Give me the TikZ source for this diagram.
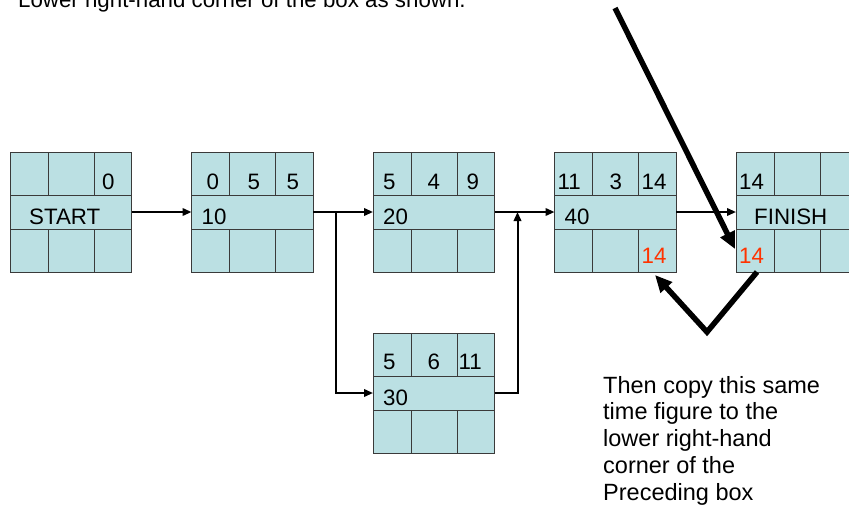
\documentclass[tikz,border=0pt]{standalone}
\usepackage{fontspec}
\setmainfont{Liberation Sans}
\usetikzlibrary{positioning}
\usetikzlibrary{arrows.meta}
\definecolor{boxfill}{HTML}{BBE0E3}
\definecolor{boxline}{HTML}{3A3A3A}
\definecolor{latered}{HTML}{FF3300}
\tikzset{
  task/.style={draw=boxline,fill=boxfill,line width=0.9pt,
    minimum width=121.5pt,minimum height=120pt,inner sep=0pt,outer sep=0pt},
  cell/.style={draw=boxline,line width=0.9pt},
  flow/.style={line width=2pt,-{Triangle[length=9pt,width=7.5pt]}},
  pointer/.style={line width=5.5pt,-{Triangle[length=17pt,width=15pt]}},
  num/.style={anchor=base west,inner sep=0pt,font=\fontsize{22.3}{26}\selectfont},
  late/.style={num,text=latered},
  note/.style={anchor=north west,inner sep=0pt,align=left,
    font=\fontsize{23.5}{26.7}\selectfont}
}

\begin{document}
\begin{tikzpicture}[x=1pt,y=-1pt,node distance=60pt and 60pt]
    \path[use as bounding box,clip] (0,0) rectangle (849,514);
    \node[task,anchor=north west] (start) at (10,152) {};
    \node[task,right=of start] (n10) {};
    \node[task,right=of n10] (n20) {};
    \node[task,below=61pt of n20] (n30) {};
    \node[task,right=of n20] (n40) {};
    \node[task,right=of n40] (finish) {};
    % rows and columns of each box
    \foreach \b in {start,n10,n20,n30,n40,finish} {
      \draw[cell] ([yshift=-43pt]\b.north west) -- ([yshift=-43pt]\b.north east)
        ([yshift=43pt]\b.south west) -- ([yshift=43pt]\b.south east);
      \foreach \dx in {38,84}
        \draw[cell] ([xshift=\dx pt]\b.north west) -- ++(0,43)
          ([xshift=\dx pt]\b.south west) -- ++(0,-43);
    }
    % times
    \node[num] at ([shift={(92,37)}]start.north west) {0};
    \node[num] at ([shift={(19,72)}]start.north west) {START};
    \node[num] at ([shift={(15,37)}]n10.north west) {0};
    \node[num] at ([shift={(56,37)}]n10.north west) {5};
    \node[num] at ([shift={(95,37)}]n10.north west) {5};
    \node[num] at ([shift={(10,72)}]n10.north west) {10};
    \node[num] at ([shift={(10,37)}]n20.north west) {5};
    \node[num] at ([shift={(54.5,37)}]n20.north west) {4};
    \node[num] at ([shift={(93.5,37)}]n20.north west) {9};
    \node[num] at ([shift={(10,72)}]n20.north west) {20};
    \node[num] at ([shift={(10,36)}]n30.north west) {5};
    \node[num] at ([shift={(54.5,36)}]n30.north west) {6};
    \node[num] at ([shift={(85.5,36)}]n30.north west) {11};
    \node[num] at ([shift={(10,72)}]n30.north west) {30};
    \node[num] at ([shift={(3,37)}]n40.north west) {11};
    \node[num] at ([shift={(55,37)}]n40.north west) {3};
    \node[num] at ([shift={(87,37)}]n40.north west) {14};
    \node[num] at ([shift={(10,72)}]n40.north west) {40};
    \node[late] at ([shift={(87,111)}]n40.north west) {14};
    \node[num] at ([shift={(3,37)}]finish.north west) {14};
    \node[num] at ([shift={(18,72)}]finish.north west) {FINISH};
    \node[late] at ([shift={(3,111)}]finish.north west) {14};
    % links
    \coordinate (fork) at ([xshift=23pt]n10.east);
    \coordinate (join) at ([xshift=23pt]n20.east);
    \draw[flow] (start.east) -- (n10.west);
    \draw[flow] (n10.east) -- (n20.west);
    \draw[flow] (fork) |- (n30.west);
    \draw[flow] (n30.east) -| (join);
    \draw[flow] (n20.east) -- (n40.west);
    \draw[flow] (n40.east) -- (finish.west);
    % notes
    \node[num] (lead) at (18,8) {Lower right-hand corner of the box as shown.};
    \node[note] (hint) at (603,376) {Then copy this same\\time figure to the\\lower right-hand\\corner of the\\Preceding box};
    \coordinate (cue) at (615,8);
    \coordinate (bend) at (707,332);
    \draw[pointer] (cue) -- ([shift={(-1,-23)}]finish.south west);
    \draw[pointer] ([xshift=21pt]finish.south west) -- (bend) -- ([shift={(-21,3)}]n40.south east);
  \end{tikzpicture}
\end{document}
